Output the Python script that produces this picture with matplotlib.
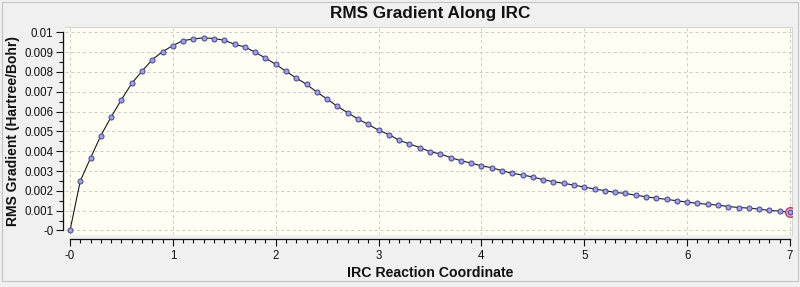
import matplotlib
matplotlib.use("Agg")
import matplotlib.pyplot as plt
from matplotlib.patches import Rectangle
from matplotlib.ticker import MultipleLocator

plt.rcParams['font.family'] = ['Liberation Sans', 'DejaVu Sans']

title = "RMS Gradient Along IRC"
xlabel = "IRC Reaction Coordinate"
ylabel = "RMS Gradient (Hartree/Bohr)"

irc_x = [0.0, 0.1, 0.2, 0.3, 0.4, 0.5, 0.6, 0.7, 0.8, 0.9,
         1.0, 1.1, 1.2, 1.3, 1.4, 1.5, 1.6, 1.7, 1.8, 1.9,
         2.0, 2.1, 2.2, 2.3, 2.4, 2.5, 2.6, 2.7, 2.8, 2.9,
         3.0, 3.1, 3.2, 3.3, 3.4, 3.5, 3.6, 3.7, 3.8, 3.9,
         4.0, 4.1, 4.2, 4.3, 4.4, 4.5, 4.6, 4.7, 4.8, 4.9,
         5.0, 5.1, 5.2, 5.3, 5.4, 5.5, 5.6, 5.7, 5.8, 5.9,
         6.0, 6.1, 6.2, 6.3, 6.4, 6.5, 6.6, 6.7, 6.8, 6.9,
         7.0]

rms_grad = [0.0, 0.00250, 0.00366, 0.00479, 0.00573, 0.00660, 0.00742, 0.00804, 0.00862, 0.00902,
            0.00933, 0.00958, 0.00966, 0.00972, 0.00968, 0.00960, 0.00939, 0.00926, 0.00899, 0.00870,
            0.00838, 0.00803, 0.00769, 0.00737, 0.00698, 0.00663, 0.00626, 0.00594, 0.00562, 0.00535,
            0.00506, 0.00484, 0.00455, 0.00437, 0.00418, 0.00398, 0.00386, 0.00368, 0.00352, 0.00340,
            0.00326, 0.00317, 0.00302, 0.00288, 0.00280, 0.00270, 0.00256, 0.00246, 0.00238, 0.00229,
            0.00219, 0.00209, 0.00201, 0.00192, 0.00187, 0.00178, 0.00170, 0.00163, 0.00157, 0.00150,
            0.00143, 0.00137, 0.00132, 0.00128, 0.00121, 0.00116, 0.00113, 0.00108, 0.00101, 0.00098,
            0.00091]

x_ticks = [0, 1, 2, 3, 4, 5, 6, 7]
x_ticklabels = ["-0", "1", "2", "3", "4", "5", "6", "7"]
y_ticks = [0.0, 0.001, 0.002, 0.003, 0.004, 0.005, 0.006, 0.007, 0.008, 0.009, 0.01]
y_ticklabels = ["-0", "0.001", "0.002", "0.003", "0.004", "0.005", "0.006", "0.007", "0.008", "0.009", "0.01"]

W, H = 800, 287
fig = plt.figure(figsize=(W / 100, H / 100), dpi=100)
fig.patch.set_facecolor('#f0f0f0')

# outer panel frame
fig.patches.append(Rectangle((2 / W, 1 - 281 / H), 796 / W, 279 / H, transform=fig.transFigure,
                             facecolor='none', edgecolor='#c4c4c4', linewidth=0.8))

left, right, top, bottom = 65, 792, 26.7, 235
ax = fig.add_axes([left / W, 1 - bottom / H, (right - left) / W, (bottom - top) / H])
ax.set_facecolor('#fefef3')

ax.plot(irc_x, rms_grad, color='#1a1a1a', linewidth=0.8, zorder=3,
        marker='o', markersize=3.6, markerfacecolor='#a2a2e0', markeredgecolor='#4a4a9e',
        markeredgewidth=0.75)
ax.plot(irc_x[-1:], rms_grad[-1:], linestyle='none', marker='o', markersize=7.0,
        markerfacecolor='#e8b4cc', markeredgecolor='#c03a6a', markeredgewidth=1.0, zorder=4)
ax.plot(irc_x[-1:], rms_grad[-1:], linestyle='none', marker='o', markersize=3.4,
        markerfacecolor='#a2a2e0', markeredgecolor='#4a4a9e', markeredgewidth=0.75, zorder=5)

ax.set_xlim(-0.0486, 7.019)
ax.set_ylim(-0.000227, 0.01028)

ax.set_xticks(x_ticks, x_ticklabels)
ax.set_yticks(y_ticks, y_ticklabels)
ax.xaxis.set_minor_locator(MultipleLocator(0.1))
ax.yaxis.set_minor_locator(MultipleLocator(0.0005))

ax.grid(True, which='major', color='#cacaca', linestyle=(0, (3, 3)), linewidth=0.7)
ax.set_axisbelow(True)

for s in ['top', 'right']:
    ax.spines[s].set_color('#d6d6d6')
    ax.spines[s].set_linewidth(0.8)
ax.spines['left'].set_position(('outward', 1.8))
ax.spines['left'].set_bounds(0, 0.01)
ax.spines['bottom'].set_position(('outward', 3.1))
ax.spines['bottom'].set_bounds(0, 7)
for s in ['left', 'bottom']:
    ax.spines[s].set_color('#111111')
    ax.spines[s].set_linewidth(0.9)

ax.tick_params(axis='y', which='major', direction='out', length=5, width=0.8, pad=1.5,
               labelsize=8.3, colors='#111111')
ax.tick_params(axis='y', which='minor', direction='out', length=2.6, width=0.8, colors='#111111')
ax.tick_params(axis='x', which='major', direction='out', length=5, width=0.8, pad=2.5,
               labelsize=8.3, colors='#111111')
ax.tick_params(axis='x', which='minor', direction='out', length=3, width=0.8, colors='#111111')

fig.text(430 / W, 1 - 13.5 / H, title, ha='center', va='center', fontsize=12.3,
         fontweight='bold', color='#111111')
fig.text(430 / W, 1 - 273 / H, xlabel, ha='center', va='center', fontsize=10.2,
         fontweight='bold', color='#111111')
fig.text(13 / W, 1 - 131 / H, ylabel, ha='center', va='center', rotation=90, fontsize=10.0,
         fontweight='bold', color='#111111')

fig.savefig('out.png', dpi=100, facecolor=fig.get_facecolor())
